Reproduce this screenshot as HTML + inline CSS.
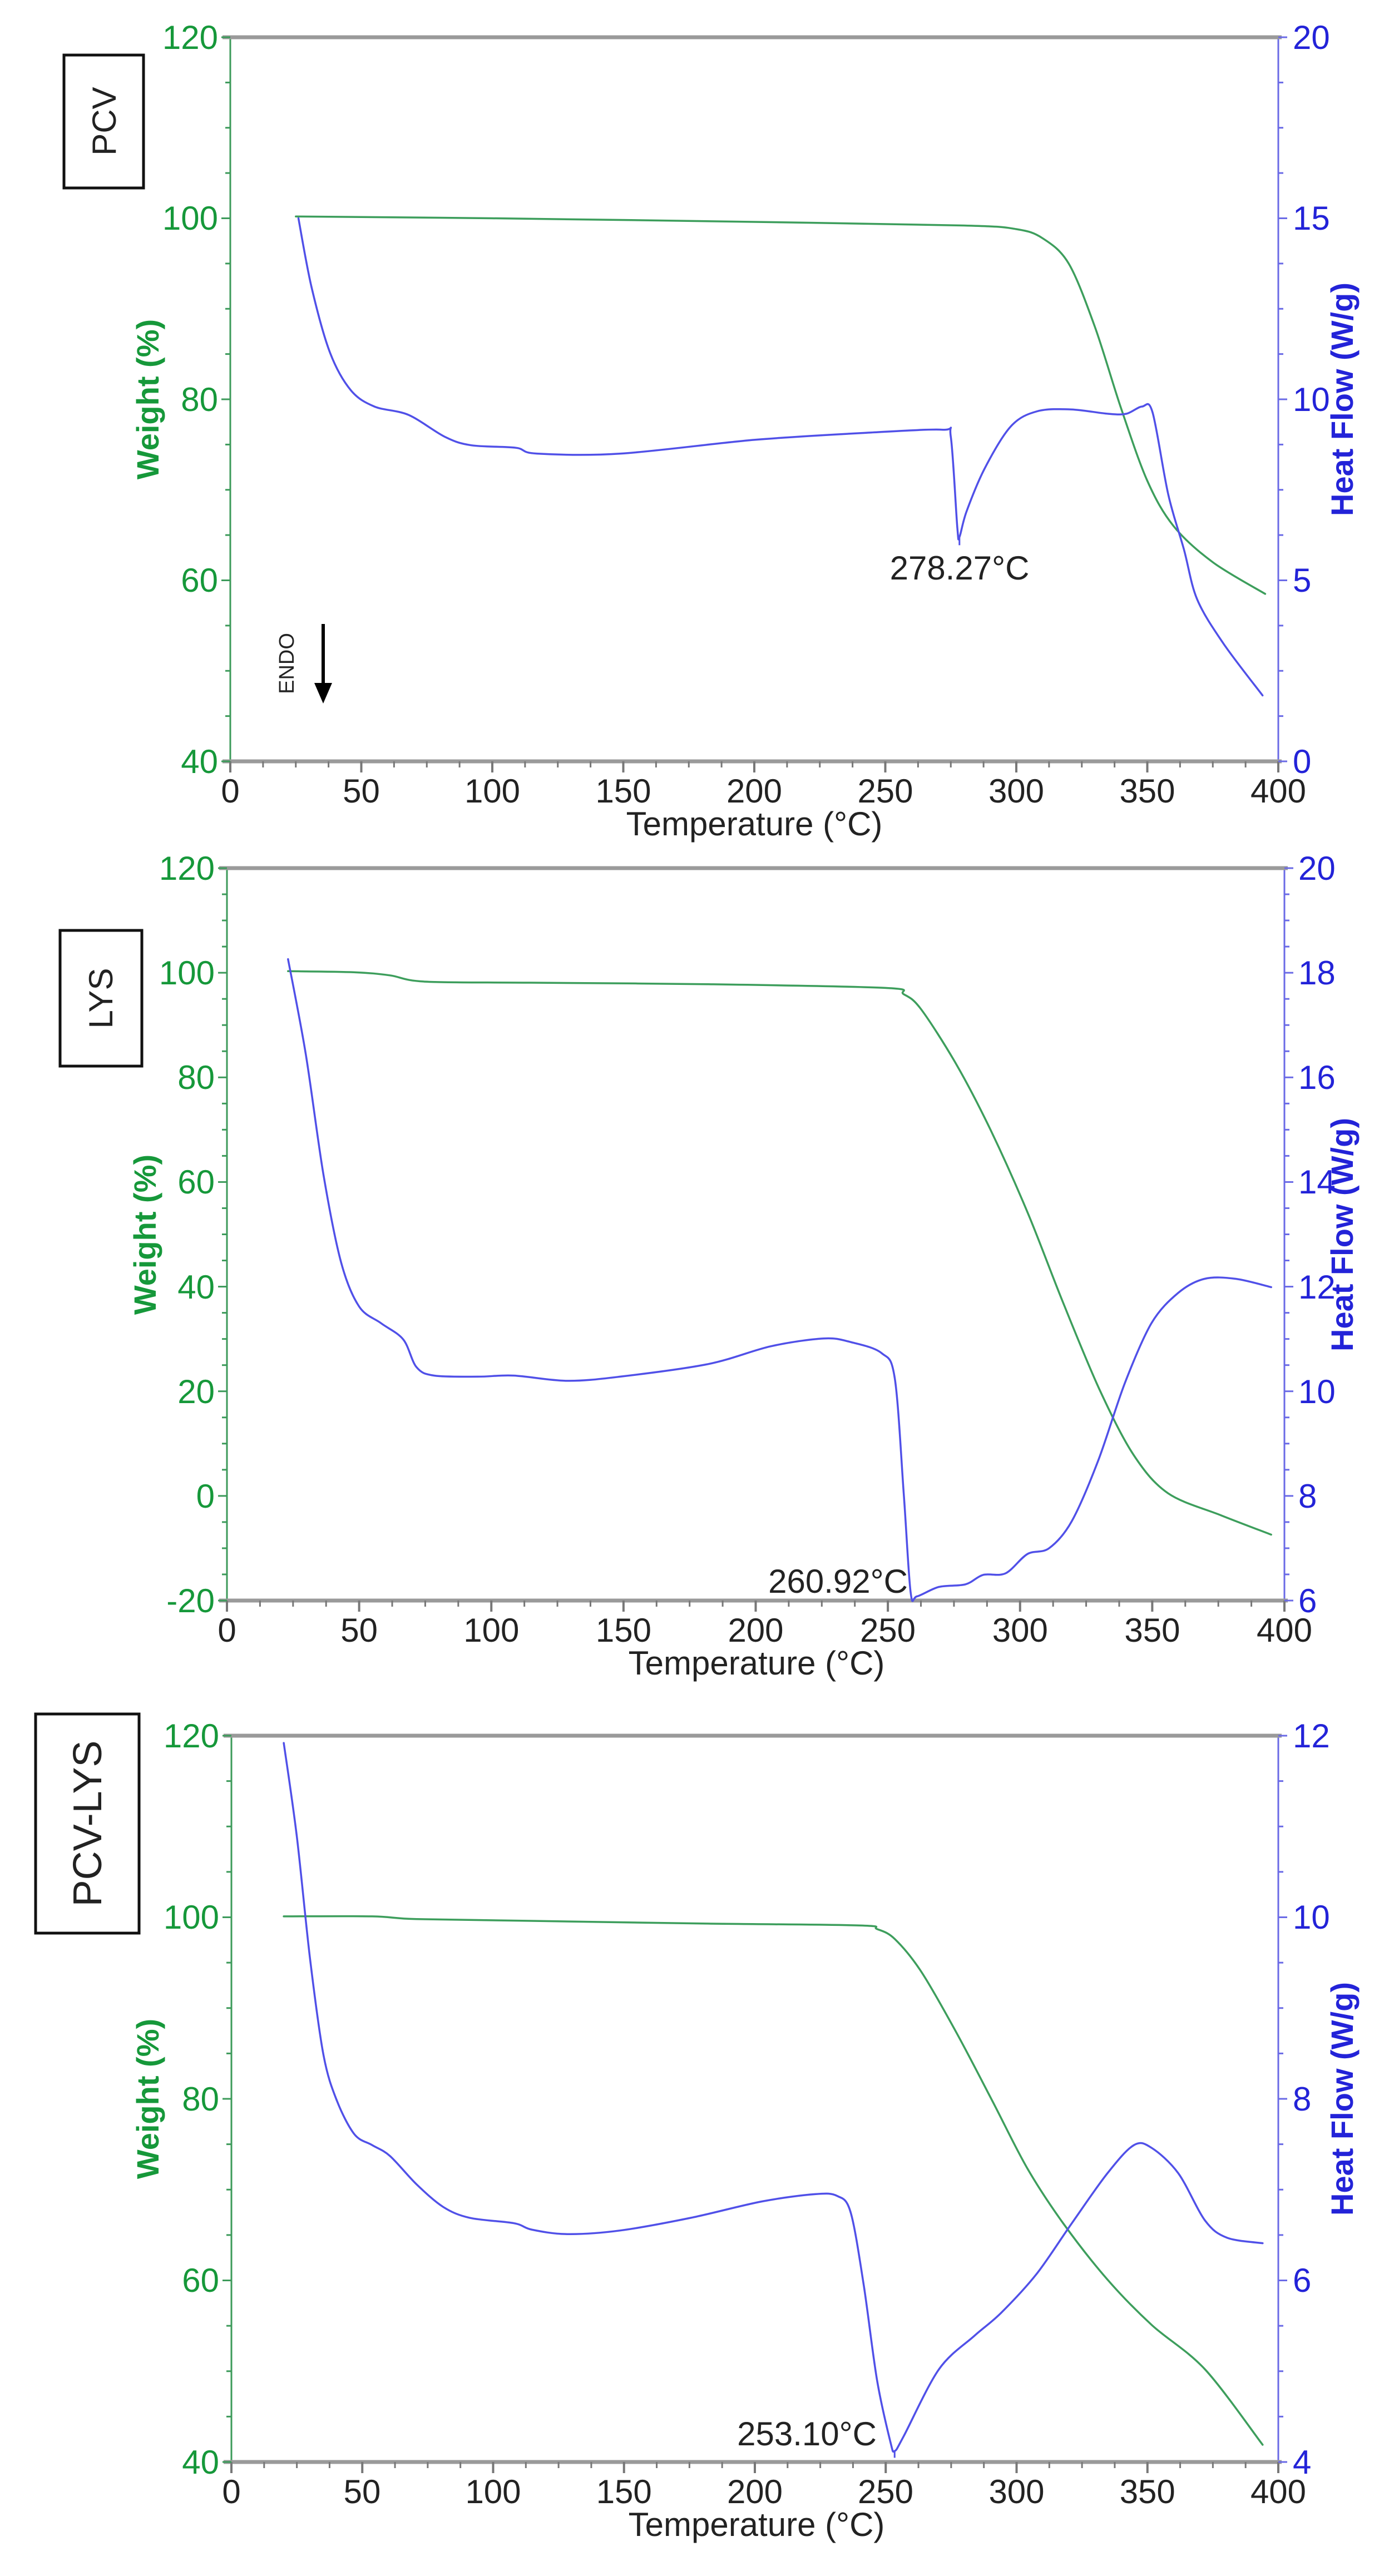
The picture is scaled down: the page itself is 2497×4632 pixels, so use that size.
<!DOCTYPE html>
<html><head><meta charset="utf-8">
<style>
html,body{margin:0;padding:0;background:#fff;}
svg{display:block;}
text{font-family:"Liberation Sans",sans-serif;}
.g{fill:#16983a;font-size:60px;}
.b{fill:#2323d8;font-size:60px;}
.k{fill:#222;font-size:60px;}
.gt{fill:#16983a;font-size:56px;font-weight:600;}
.bt{fill:#2323d8;font-size:56px;font-weight:600;}
</style></head>
<body>
<svg id="s" xmlns="http://www.w3.org/2000/svg" width="2497" height="4632" viewBox="0 0 2497 4632">
<rect width="2497" height="4632" fill="#fff"/>
<g id="dyn"></g>

<!-- Chart 1 text -->
<g class="k" text-anchor="middle">
<text x="414" y="1443">0</text><text x="649.5" y="1443">50</text><text x="885" y="1443">100</text><text x="1120.5" y="1443">150</text><text x="1356" y="1443">200</text><text x="1591.5" y="1443">250</text><text x="1827" y="1443">300</text><text x="2062.5" y="1443">350</text><text x="2298" y="1443">400</text>
<text x="1356" y="1502">Temperature (°C)</text>
<text x="1725" y="1042">278.27°C</text>
</g>
<g class="g" text-anchor="end">
<text x="392" y="88">120</text><text x="392" y="413">100</text><text x="392" y="739">80</text><text x="392" y="1064">60</text><text x="392" y="1390">40</text>
</g>
<g class="b">
<text x="2324" y="88">20</text><text x="2324" y="413">15</text><text x="2324" y="739">10</text><text x="2324" y="1064">5</text><text x="2324" y="1390">0</text>
</g>
<text class="gt" text-anchor="middle" transform="translate(285,718) rotate(-90)">Weight (%)</text>
<text class="bt" text-anchor="middle" transform="translate(2432,718) rotate(-90)">Heat Flow (W/g)</text>
<rect x="115" y="99" width="143" height="239" fill="none" stroke="#111" stroke-width="5"/>
<text class="k" text-anchor="middle" transform="translate(208,218) rotate(-90)">PCV</text>
<text class="k" style="font-size:38px" text-anchor="middle" transform="translate(528,1193) rotate(-90)">ENDO</text>
<line x1="581" y1="1122" x2="581" y2="1230" stroke="#000" stroke-width="6"/>
<polygon points="565,1228 597,1228 581,1265" fill="#000"/>

<!-- Chart 2 text -->
<g class="k" text-anchor="middle">
<text x="408" y="2952">0</text><text x="645.6" y="2952">50</text><text x="883.3" y="2952">100</text><text x="1120.9" y="2952">150</text><text x="1358.5" y="2952">200</text><text x="1596" y="2952">250</text><text x="1833.8" y="2952">300</text><text x="2071.4" y="2952">350</text><text x="2309" y="2952">400</text>
<text x="1360" y="3011">Temperature (°C)</text>
</g>
<text class="k" text-anchor="end" x="1632" y="2864">260.92°C</text>
<g class="g" text-anchor="end">
<text x="386" y="1582">120</text><text x="386" y="1770">100</text><text x="386" y="1958">80</text><text x="386" y="2146">60</text><text x="386" y="2335">40</text><text x="386" y="2523">20</text><text x="386" y="2711">0</text><text x="386" y="2899">-20</text>
</g>
<g class="b">
<text x="2334" y="1582">20</text><text x="2334" y="1770">18</text><text x="2334" y="1958">16</text><text x="2334" y="2146">14</text><text x="2334" y="2335">12</text><text x="2334" y="2523">10</text><text x="2334" y="2711">8</text><text x="2334" y="2899">6</text>
</g>
<text class="gt" text-anchor="middle" transform="translate(280,2220) rotate(-90)">Weight (%)</text>
<text class="bt" text-anchor="middle" transform="translate(2432,2220) rotate(-90)">Heat Flow (W/g)</text>
<rect x="108" y="1673" width="147" height="244" fill="none" stroke="#111" stroke-width="5"/>
<text class="k" text-anchor="middle" transform="translate(202,1795) rotate(-90)">LYS</text>

<!-- Chart 3 text -->
<g class="k" text-anchor="middle">
<text x="416" y="4501">0</text><text x="651" y="4501">50</text><text x="886.5" y="4501">100</text><text x="1121.75" y="4501">150</text><text x="1357" y="4501">200</text><text x="1592" y="4501">250</text><text x="1827.5" y="4501">300</text><text x="2062.75" y="4501">350</text><text x="2298" y="4501">400</text>
<text x="1360" y="4560">Temperature (°C)</text>
</g>
<text class="k" text-anchor="end" x="1576" y="4397">253.10°C</text>
<g class="g" text-anchor="end">
<text x="394" y="3142">120</text><text x="394" y="3468">100</text><text x="394" y="3795">80</text><text x="394" y="4121">60</text><text x="394" y="4448">40</text>
</g>
<g class="b">
<text x="2324" y="3142">12</text><text x="2324" y="3468">10</text><text x="2324" y="3795">8</text><text x="2324" y="4121">6</text><text x="2324" y="4448">4</text>
</g>
<text class="gt" text-anchor="middle" transform="translate(285,3774) rotate(-90)">Weight (%)</text>
<text class="bt" text-anchor="middle" transform="translate(2432,3774) rotate(-90)">Heat Flow (W/g)</text>
<rect x="64" y="3082" width="186" height="394" fill="none" stroke="#111" stroke-width="5"/>
<text class="k" style="font-size:72px" text-anchor="middle" transform="translate(182,3279) rotate(-90)">PCV-LYS</text>
</svg>
<script>
(function(){
var NS="http://www.w3.org/2000/svg",D=document.getElementById("dyn");
function el(n,a){var e=document.createElementNS(NS,n);for(var k in a)e.setAttribute(k,a[k]);D.appendChild(e);return e;}
function chart(c){
 var L=c.L,R=c.R,T=c.T,B=c.B;
 function X(t){return L+t/400*(R-L);}
 function YW(w){return B-(w-c.w0)/(c.w1-c.w0)*(B-T);}
 function YH(h){return B-(h-c.h0)/(c.h1-c.h0)*(B-T);}
 el("line",{x1:L,y1:T,x2:L,y2:B,stroke:"#3c9a5a","stroke-width":3});
 el("line",{x1:R,y1:T,x2:R,y2:B,stroke:"#6a6ae6","stroke-width":3});
 el("line",{x1:L-14,y1:T,x2:R+6,y2:T,stroke:"#9a9a9a","stroke-width":7});
 el("line",{x1:L-14,y1:B,x2:R+6,y2:B,stroke:"#9a9a9a","stroke-width":7});
 for(var i=0;i<=32;i++){var x=L+i*(R-L)/32,mj=i%4==0;el("line",{x1:x,y1:B,x2:x,y2:B+(mj?20:11),stroke:"#777","stroke-width":mj?4:3});}
 var n=c.wdiv;
 for(var i=0;i<=n;i++){var y=T+i*(B-T)/n,mj=i%4==0;el("line",{x1:L,y1:y,x2:L-(mj?16:9),y2:y,stroke:"#3c9a5a","stroke-width":3});}
 var m=c.hdiv;
 for(var i=0;i<=m;i++){var y=T+i*(B-T)/m,mj=i%4==0;el("line",{x1:R,y1:y,x2:R+(mj?16:9),y2:y,stroke:"#6a6ae6","stroke-width":3});}
 function path(d,Y,col){
  var P=[];for(var i=0;i<d.length;i+=2)P.push([X(d[i]),Y(d[i+1])]);
  var s="M"+P[0][0].toFixed(1)+","+P[0][1].toFixed(1);
  for(var i=0;i<P.length-1;i++){
   var p0=P[i>0?i-1:i],p1=P[i],p2=P[i+1],p3=P[i+2<P.length?i+2:i+1];
   var t=0.16;
   var c1=[p1[0]+(p2[0]-p0[0])*t,p1[1]+(p2[1]-p0[1])*t];
   var c2=[p2[0]-(p3[0]-p1[0])*t,p2[1]-(p3[1]-p1[1])*t];
   s+="C"+c1[0].toFixed(1)+","+c1[1].toFixed(1)+" "+c2[0].toFixed(1)+","+c2[1].toFixed(1)+" "+p2[0].toFixed(1)+","+p2[1].toFixed(1);
  }
  el("path",{d:s,fill:"none",stroke:col,"stroke-width":3.5,"stroke-linejoin":"round","stroke-linecap":"round"});}
 path(c.g,YW,"#3d9e5c");path(c.b,YH,"#5050e8");
 if(c.pk){el("line",{x1:X(c.pk[0]),y1:YH(c.pk[1]),x2:X(c.pk[0]),y2:YH(c.pk[1])+c.pk[2],stroke:"#5050e8","stroke-width":3});}
}
chart({L:414,R:2298,T:67,B:1369,w0:40,w1:120,h0:0,h1:20,wdiv:16,hdiv:16,
g:[25,100.2,100,100,200,99.6,280,99.2,300,98.8,310,97.8,320,95,330,88,340,79,350,71,360,66,375,62,395,58.5],
b:[26,15.0,31,13.1,38,11.3,46,10.25,55,9.8,68,9.57,82,8.96,92,8.73,109,8.66,117,8.5,149,8.5,200,8.88,244,9.08,272,9.16,275,8.96,277.5,6.45,278.3,6.2,281,6.9,288,8.1,298,9.26,308,9.67,321,9.72,335,9.6,342,9.6,348,9.8,352,9.64,358,7.37,364,5.85,369,4.48,379,3.26,394,1.82],
pk:[278.3,6.2,15]});
chart({L:408,R:2309,T:1561,B:2878,w0:-20,w1:120,h0:6,h1:20,wdiv:28,hdiv:28,
g:[23.1,100.3,48,100.1,61.6,99.5,75,98.3,115,98.1,182,97.8,249,97.1,256,95.9,262.6,93,276,82.4,289,69.8,303,54,316,37.3,330,20.4,343,7.8,356,0.5,376,-3.7,395,-7.4],
b:[23.1,18.26,29.8,16.45,36.5,14.14,43.2,12.46,50,11.62,58.3,11.3,66.7,10.99,71.7,10.46,78.4,10.3,95,10.28,108.5,10.3,128.6,10.2,148.7,10.28,182,10.52,205.7,10.86,225.8,11.01,236,10.94,247.6,10.73,252.6,10.25,256,8.05,258.6,6.16,261,6.08,269.3,6.26,279.4,6.31,286,6.49,294.5,6.52,302.8,6.89,311,7.0,319.6,7.52,329.6,8.68,339.6,10.15,349.7,11.3,359.8,11.88,369.8,12.15,381.6,12.15,395,11.99]});
chart({L:416,R:2298,T:3121,B:4427,w0:40,w1:120,h0:4,h1:12,wdiv:16,hdiv:16,
g:[20,100.1,53.8,100.1,70.7,99.8,114.7,99.6,182,99.3,240,99.1,246.7,98.7,253.5,97.6,263.6,94,277,87.3,290.7,79.8,304,72.4,317.8,66.3,334.7,60.1,351.6,55.1,372,50.2,394,41.9],
b:[20,11.92,25,10.89,30.1,9.53,35.2,8.48,40.3,7.98,47,7.61,53.8,7.49,60.6,7.37,70.7,7.06,80.9,6.81,91,6.69,108,6.63,114.7,6.56,128.3,6.51,148.6,6.55,175.6,6.69,202.7,6.87,223,6.95,231.5,6.93,236.6,6.75,241.6,5.95,246.7,4.9,251.8,4.22,253.4,4.12,256.8,4.28,270.3,5.02,283.9,5.39,294,5.64,307.6,6.07,321.1,6.63,334.7,7.18,344.8,7.49,351.6,7.46,361.8,7.18,372,6.66,380.4,6.47,394,6.41],
pk:[253.4,4.12,12]});
})();
</script>
</body></html>
